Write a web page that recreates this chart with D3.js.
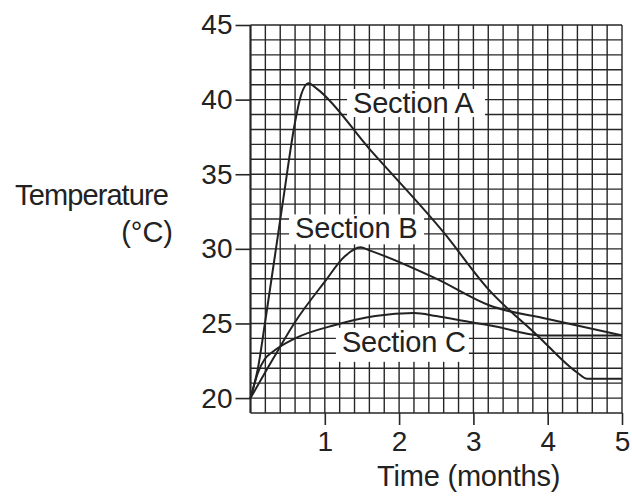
<!DOCTYPE html>
<html>
<head>
<meta charset="utf-8">
<script src="https://cdn.jsdelivr.net/npm/d3@7"></script>
<style>
  body { margin: 0; background: #fff; }
  text { font-family: "Liberation Sans", Arial, sans-serif; fill: #222; }
</style>
</head>
<body>
<div id="chart"></div>
<script>
// values
const yTicks = [20, 25, 30, 35, 40, 45];
const xTicks = [1, 2, 3, 4, 5];

const timeA = [0, 0.1, 0.2, 0.44, 0.6, 0.68, 0.78, 0.9, 1.6, 2.6, 3.2, 3.86, 4.4, 4.53, 5];
const tempA = [20, 22, 25.2, 33.3, 38.5, 40.3, 41.1, 40.7, 36.7, 31.1, 27.3, 24.2, 21.7, 21.3, 21.3];

const timeB = [0, 0.3, 0.6, 1.0, 1.27, 1.48, 1.6, 2.5, 3.22, 4, 5];
const tempB = [20, 22.6, 25.1, 27.8, 29.5, 30.1, 29.9, 28, 26.2, 25.3, 24.2];

const timeC = [0, 0.05, 0.1, 0.19, 0.3, 0.6, 1.14, 1.68, 2.2, 2.5, 2.95, 3.3, 3.9, 5];
const tempC = [20, 20.9, 21.7, 22.6, 23.1, 24, 24.9, 25.5, 25.7, 25.5, 25.1, 24.8, 24.2, 24.2];

const sectionNames = ['Section A', 'Section B', 'Section C'];
// where each label sits, in data units (left edge / baseline)
const labelTime = [1.38, 0.6, 1.23];
const labelTemp = [39.1, 30.7, 23.1];

const cfg = {
  width: 632,
  height: 496,
  left: 250.5,
  right: 622,
  top: 25,
  bottom: 413
};

const svg = d3.select('#chart')
  .append('svg')
  .attr('width', cfg.width)
  .attr('height', cfg.height);

const x = d3.scaleLinear().domain([0, 5]).range([cfg.left, cfg.right]);
const y = d3.scaleLinear().domain([19, 45]).range([cfg.bottom, cfg.top]);

// fine grid: 0.2 month by 1 degree
const gridX = d3.range(0, 26).map(i => i * 0.2);
const gridY = d3.range(19, 46);

const grid = svg.append('g')
  .attr('stroke', '#262626')
  .attr('stroke-width', 1.4);

grid.selectAll('.vline')
  .data(gridX)
  .enter()
  .append('line')
  .attr('class', 'vline')
  .attr('x1', d => x(d)).attr('x2', d => x(d))
  .attr('y1', y(19)).attr('y2', y(45));

grid.selectAll('.hline')
  .data(gridY)
  .enter()
  .append('line')
  .attr('class', 'hline')
  .attr('x1', x(0)).attr('x2', x(5))
  .attr('y1', d => y(d)).attr('y2', d => y(d));

// thicker left edge
grid.append('line')
  .attr('x1', x(0)).attr('x2', x(0))
  .attr('y1', y(19)).attr('y2', y(45))
  .attr('stroke-width', 2);

// axes
const leftAxis = d3.axisLeft(y).tickValues(yTicks).tickSize(15).tickPadding(3);
const bottomAxis = d3.axisBottom(x).tickValues(xTicks).tickSize(12).tickPadding(6)
  .tickFormat(d3.format('d'));

const yaxis = svg.append('g')
  .attr('transform', `translate(${cfg.left}, 0)`)
  .call(leftAxis);
const xaxis = svg.append('g')
  .attr('transform', `translate(0, ${cfg.bottom})`)
  .call(bottomAxis);

[yaxis, xaxis].forEach(ax => {
  ax.select('.domain').remove();
  ax.selectAll('line').attr('stroke', '#262626').attr('stroke-width', 1.6);
  ax.selectAll('text')
    .attr('font-size', 28)
    .attr('fill', '#222')
    .style('font-family', '"Liberation Sans", Arial, sans-serif');
});

// white boxes behind the section labels
const labelBoxes = [
  { w: 138, h: 28 },
  { w: 135, h: 30 },
  { w: 133, h: 34 }
];
const labels = sectionNames.map((name, i) => ({
  name: name,
  x: x(labelTime[i]),
  y: y(labelTemp[i]),
  box: labelBoxes[i]
}));

svg.selectAll('.labelbox')
  .data(labels)
  .enter()
  .append('rect')
  .attr('class', 'labelbox')
  .attr('x', d => d.x - 6)
  .attr('y', d => d.y - 24)
  .attr('width', d => d.box.w)
  .attr('height', d => d.box.h)
  .attr('fill', '#fff');

// the three curves
const series = [
  timeA.map((t, i) => [t, tempA[i]]),
  timeB.map((t, i) => [t, tempB[i]]),
  timeC.map((t, i) => [t, tempC[i]])
];

const line = d3.line()
  .x(d => x(d[0]))
  .y(d => y(d[1]))
  .curve(d3.curveMonotoneX);

svg.selectAll('.curve')
  .data(series)
  .enter()
  .append('path')
  .attr('class', 'curve')
  .attr('d', line)
  .attr('fill', 'none')
  .attr('stroke', '#222')
  .attr('stroke-width', 2);

svg.selectAll('.labeltext')
  .data(labels)
  .enter()
  .append('text')
  .attr('class', 'labeltext')
  .attr('x', d => d.x)
  .attr('y', d => d.y)
  .attr('font-size', 29)
  .attr('letter-spacing', -0.2)
  .text(d => d.name);

// axis titles
svg.append('text')
  .attr('x', 168)
  .attr('y', 205)
  .attr('text-anchor', 'end')
  .attr('font-size', 29)
  .attr('letter-spacing', -0.9)
  .text('Temperature');

svg.append('text')
  .attr('x', 173)
  .attr('y', 242)
  .attr('text-anchor', 'end')
  .attr('font-size', 29)
  .text('(°C)');

svg.append('text')
  .attr('x', 377)
  .attr('y', 486)
  .attr('font-size', 29)
  .attr('letter-spacing', -0.2)
  .text('Time (months)');
</script>
</body>
</html>
